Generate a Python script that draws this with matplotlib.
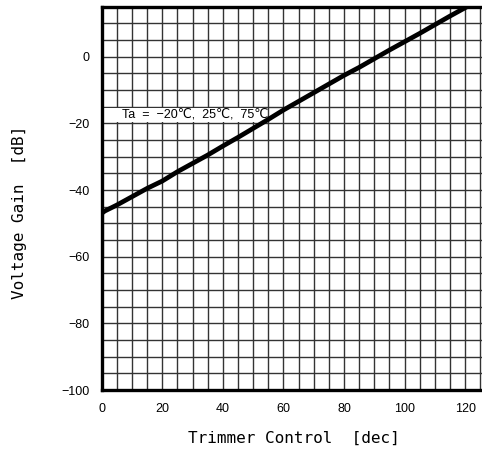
import matplotlib
matplotlib.use("Agg")
import matplotlib.pyplot as plt
from matplotlib.patches import Rectangle
from matplotlib.ticker import MultipleLocator

# Trimmer setting (decimal code) vs. voltage gain, Ta = -20/25/75 degC curves overlap
trim_code = [0, 0, 1, 5, 10, 15, 20, 25, 30, 35, 40, 45, 50, 55, 60, 65,
             70, 75, 80, 85, 90, 95, 100, 105, 110, 115, 120, 122]
gain_db = [-60.0, -47.0, -46.3, -44.5, -42.0, -39.5, -37.3, -34.5, -32.0,
           -29.5, -26.8, -24.2, -21.5, -18.8, -16.0, -13.4, -10.8, -8.2,
           -5.6, -3.2, -0.6, 2.0, 4.5, 7.0, 9.6, 12.2, 14.7, 15.7]

x_ticks = [0, 20, 40, 60, 80, 100, 120]
y_ticks = [-100, -80, -60, -40, -20, 0]
x_range = (0, 127)
y_range = (-100, 15)

tick_font = ["Liberation Sans", "DejaVu Sans"]
label_font = ["DejaVu Sans Mono", "DejaVu Sans"]

fig = plt.figure(figsize=(4.82, 4.59), dpi=100)
ax = fig.add_axes([0.211, 0.1503, 0.798, 0.835])
ax.set_xlim(*x_range)
ax.set_ylim(*y_range)

# fine grid every 5 units on both axes
ax.xaxis.set_minor_locator(MultipleLocator(5))
ax.yaxis.set_minor_locator(MultipleLocator(5))
ax.grid(which="both", color="#333333", linewidth=1.0)
ax.set_axisbelow(True)

ax.set_xticks(x_ticks)
ax.set_yticks(y_ticks)
ax.set_xticklabels([str(v) for v in x_ticks], family=tick_font, fontsize=9)
ax.set_yticklabels([str(v).replace("-", "\u2212") for v in y_ticks],
                   family=tick_font, fontsize=9)
ax.tick_params(which="both", length=0, pad=9)

for side in ("left", "bottom", "top"):
    ax.spines[side].set_linewidth(2.4)
    ax.spines[side].set_color("black")
ax.spines["right"].set_visible(False)

# condition label on a white patch over the grid
ax.add_patch(Rectangle((0.5, -19.7), 53.5, 4.4, facecolor="white",
                       edgecolor="none", zorder=2))
ax.text(6.6, -17.3, "Ta  =  \u221220\u2103,  25\u2103,  75\u2103",
        family=tick_font, fontsize=9, va="center", ha="left", zorder=3)

ax.plot(trim_code, gain_db, color="black", linewidth=3.4,
        solid_capstyle="round", solid_joinstyle="round", zorder=4,
        clip_on=True)

fig.text(20 / 482, 1 - 212 / 459, "Voltage Gain  [dB]", rotation=90,
         ha="center", va="center", family=label_font, fontsize=11.5)
fig.text(294 / 482, 1 - 438 / 459, "Trimmer Control  [dec]",
         ha="center", va="center", family=label_font, fontsize=11.5)

fig.savefig("out.png", dpi=100)
